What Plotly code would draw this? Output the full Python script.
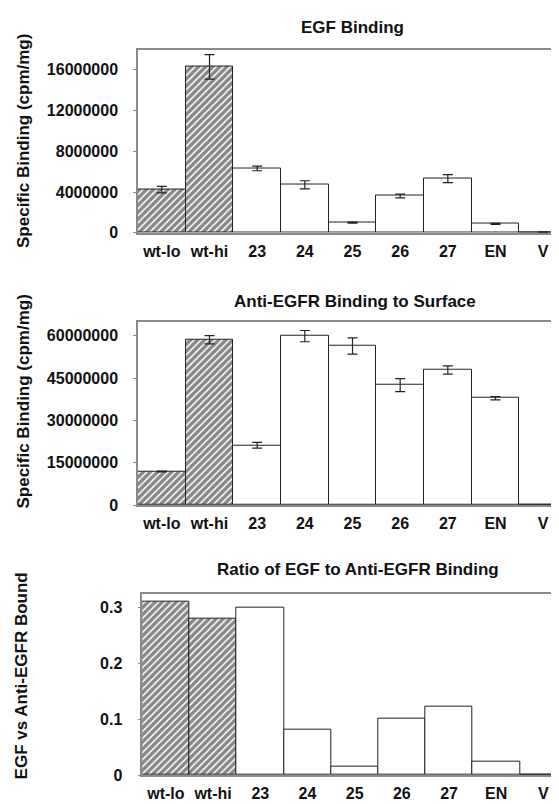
import plotly.graph_objects as go

categories = ["wt-lo", "wt-hi", "23", "24", "25", "26", "27", "EN", "V"]
egf_binding = [4.23e6, 16.3e6, 6.32e6, 4.71e6, 1.0e6, 3.61e6, 5.32e6, 0.87e6, 0.06e6]
egf_error = [0.32e6, 1.2e6, 0.23e6, 0.4e6, 0.05e6, 0.19e6, 0.39e6, 0.05e6, 0.03e6]
anti_binding = [11.9e6, 58.6e6, 21.2e6, 59.9e6, 56.4e6, 42.5e6, 47.9e6, 37.9e6, 0]
anti_error = [0.15e6, 1.45e6, 1.0e6, 2.0e6, 2.85e6, 2.3e6, 1.45e6, 0.6e6, 0]
ratio = [0.311, 0.28, 0.30, 0.081, 0.015, 0.101, 0.123, 0.024, 0]

egf_ticks = [0, 4000000, 8000000, 12000000, 16000000]
anti_ticks = [0, 15000000, 30000000, 45000000, 60000000]
ratio_ticks = [0, 0.1, 0.2, 0.3]
ratio_ticklabels = ["0", "0.1", "0.2", "0.3"]

titles = ["EGF Binding", "Anti-EGFR Binding to Surface", "Ratio of EGF to Anti-EGFR Binding"]
ytitles = ["Specific Binding (cpm/mg)", "Specific Binding (cpm/mg)", "EGF vs Anti-EGFR Bound"]

FONT = "Liberation Sans, Arial, sans-serif"
W, H = 559, 804

shapes_pat = ["/", "/"] + [""] * (len(categories) - 2)

def bar(y, err, xa, ya):
    kw = {}
    if err is not None:
        kw["error_y"] = dict(type="data", array=err, visible=True,
                             color="#222", thickness=1.2, width=5)
    return go.Bar(
        x=categories, y=y, xaxis=xa, yaxis=ya,
        marker=dict(color="white",
                    line=dict(color="#222", width=1),
                    pattern=dict(shape=shapes_pat, fgcolor="#111111",
                                 size=5, solidity=0.7)),
        showlegend=False, **kw)

fig = go.Figure()
fig.add_trace(bar(egf_binding, egf_error, "x", "y"))
fig.add_trace(bar(anti_binding, anti_error, "x2", "y2"))
fig.add_trace(bar(ratio, None, "x3", "y3"))

def py(pix):
    return 1 - pix / H

panels = [
    dict(left=130, top=42, bottom=227.3, rng=[0, 18000000], ticks=egf_ticks, labels=None),
    dict(left=130, top=317.3, bottom=502.7, rng=[0, 65000000], ticks=anti_ticks, labels=None),
    dict(left=134.3, top=592.3, bottom=775.7, rng=[0, 0.325], ticks=ratio_ticks, labels=ratio_ticklabels),
]

layout = dict(
    width=W, height=H, margin=dict(l=0, r=0, t=0, b=0),
    paper_bgcolor="white", plot_bgcolor="white",
    bargap=0, font=dict(family=FONT, color="#111"),
)

for i, p in enumerate(panels):
    sfx = "" if i == 0 else str(i + 1)
    layout["xaxis" + sfx] = dict(
        domain=[p["left"] / W, 1], range=[-0.5, 8.5],
        anchor="y" + sfx, showline=True, mirror=True, linecolor="#8a8a8a", linewidth=1.5,
        ticks="", showgrid=False, zeroline=False,
        tickfont=dict(size=16, family=FONT, color="#111", weight="bold"),
        ticklabelstandoff=3,
    )
    ya = dict(
        domain=[py(p["bottom"]), py(p["top"])], range=p["rng"],
        anchor="x" + sfx, showline=True, mirror=False, linecolor="#8a8a8a", linewidth=1.5,
        ticks="outside", ticklen=3, tickcolor="#8a8a8a",
        showgrid=False, zeroline=False, tickvals=p["ticks"], tickformat="d",
        tickfont=dict(size=16, family=FONT, color="#111", weight="bold"),
        ticklabelstandoff=12,
    )
    if p["labels"] is not None:
        ya["ticktext"] = p["labels"]
    layout["yaxis" + sfx] = ya

fig.update_layout(**layout)

title_y = [20, 296.7, 568.3]
title_x = [344, 347, 350]
for t, tx, ty in zip(titles, title_x, title_y):
    fig.add_annotation(text="<b>" + t + "</b>", x=tx / W, y=py(ty), xref="paper", yref="paper",
                       showarrow=False, xanchor="center", yanchor="middle",
                       font=dict(size=17, family=FONT, color="#111"))

ytitle_pos = [(16, 134.5), (16, 398), (13, 676)]
for t, (tx, ty) in zip(ytitles, ytitle_pos):
    fig.add_annotation(text="<b>" + t + "</b>", x=tx / W, y=py(ty), xref="paper", yref="paper",
                       showarrow=False, xanchor="center", yanchor="middle", textangle=-90,
                       font=dict(size=17, family=FONT, color="#111"))

fig.write_html("out.html")
